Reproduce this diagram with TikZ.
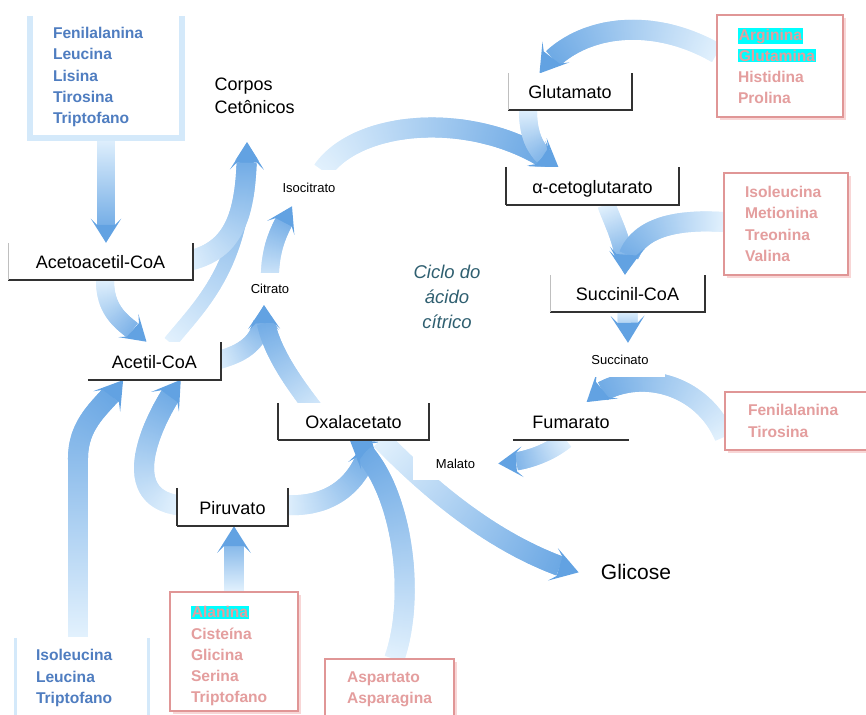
\documentclass[tikz,border=0pt]{standalone}
\usepackage{fontspec}
\setmainfont{Liberation Sans}
\usetikzlibrary{decorations.markings,backgrounds,shadows}

\definecolor{azulclaro}{RGB}{226,241,253}
\definecolor{azulescuro}{RGB}{98,162,226}
\definecolor{azulborda}{RGB}{212,233,250}
\definecolor{azultexto}{RGB}{79,125,192}
\definecolor{rosaborda}{RGB}{224,150,150}
\definecolor{rosasombra}{RGB}{248,214,214}
\definecolor{rosatexto}{RGB}{228,158,158}
\definecolor{ciano}{RGB}{0,255,255}
\definecolor{ciclo}{RGB}{47,95,112}
\definecolor{cinzasombra}{RGB}{50,50,50}

\newcommand{\realce}[1]{{\setlength{\fboxsep}{0.8pt}\colorbox{ciano}{#1}}}

\begin{document}
\begin{tikzpicture}[
		x=1pt,y=-1pt,
		etapa/.style={fill=white,inner sep=0pt,minimum height=37pt,text height=14.4pt,text depth=0pt,font=\fontsize{18}{20}\selectfont},
		rotulo/.style={fill=white,inner sep=0pt,font=\fontsize{13}{15}\selectfont},
		listaazul/.style={inner sep=0pt,align=left,text=azultexto,font=\fontsize{15.6}{21.2}\selectfont\bfseries},
		listarosa/.style={draw=rosaborda,line width=1.5pt,fill=white,inner sep=0pt,align=left,text=rosatexto,
			font=\fontsize{15.6}{21.2}\selectfont\bfseries,
			drop shadow={shadow xshift=3pt,shadow yshift=-3pt,fill=rosasombra,opacity=1}},
		bordaazul/.style={draw=azulborda,line width=6pt},
		sombra/.style={draw=cinzasombra,line width=2pt},
		bordafina/.style={draw=black!25,line width=0.6pt},
		seta/.style={decoration={markings,
				mark=between positions 0 and -#1 step 1pt with {%
					\pgfmathsetmacro\fracseta{\pgfkeysvalueof{/pgf/decoration/mark info/distance from start}/\pgfdecoratedpathlength*100}%
					\fill[azulescuro!\fracseta!azulclaro] (-0.9pt,-#1/2) rectangle (0.9pt,#1/2);},
				mark=at position -3pt with {%
					\fill[azulescuro] (3pt,0pt) -- (3pt-1.35*#1,0.85*#1) -- (3pt-1.0*#1,0.5*#1) -- (3pt-1.0*#1,-0.5*#1) -- (3pt-1.35*#1,-0.85*#1) -- cycle;}},
			decorate},
		]
		\useasboundingbox (0,0) rectangle (866,714);

		% listas de aminoacidos
		\node[listaazul,minimum width=152pt,minimum height=122pt,text width=106pt] (listaA) at (106,77)
			{Fenilalanina\\Leucina\\Lisina\\Tirosina\\Triptofano};
		\draw[bordaazul] (listaA.north west) -- (listaA.south west) -- (listaA.south east) -- (listaA.north east);
		\node[listaazul,minimum width=132pt,minimum height=80pt,text width=92pt] (listaB) at (82,678)
			{Isoleucina\\Leucina\\Triptofano};
		\draw[bordaazul,line width=3pt] (listaB.north west) -- (listaB.south west) (listaB.north east) -- (listaB.south east);
		\node[listarosa,minimum width=126pt,minimum height=102pt,text width=84pt] (listaC) at (780,66)
			{\realce{Arginina}\\\realce{Glutamina}\\Histidina\\Prolina};
		\node[listarosa,minimum width=124pt,minimum height=102pt,text width=82pt] (listaD) at (786,224)
			{Isoleucina\\Metionina\\Treonina\\Valina};
		\node[listarosa,minimum width=143pt,minimum height=58pt,text width=97pt] (listaE) at (796.5,421)
			{Fenilalanina\\Tirosina};
		\node[listarosa,minimum width=128pt,minimum height=119pt,text width=86pt] (listaF) at (234,651.5)
			{\rule{0pt}{21pt}\realce{Alanina}\\Cisteína\\Glicina\\Serina\\Triptofano};
		\node[listarosa,minimum width=129pt,minimum height=61pt,text width=85pt] (listaG) at (389.5,689.5)
			{Aspartato\\Asparagina};

		% intermediarios
		\node[etapa,minimum width=185pt] (acetoacetil) at (100.5,261.5) {Acetoacetil-CoA};
		\node[etapa,minimum width=133pt,minimum height=38pt] (acetil) at (154.5,361) {Acetil-CoA};
		\node[etapa,minimum width=111pt,minimum height=38pt] (piruvato) at (232.5,507) {Piruvato};
		\node[etapa,minimum width=151pt] (oxal) at (353.5,421.5) {Oxalacetato};
		\node[etapa,minimum width=116pt,minimum height=38pt] (fumarato) at (571,421) {Fumarato};
		\node[etapa,minimum width=155pt] (succinil) at (627.5,293.5) {Succinil-CoA};
		\node[etapa,minimum width=173pt,minimum height=38pt] (alfa) at (592.5,186) {α-cetoglutarato};
		\node[etapa,minimum width=124pt] (glutamato) at (570,91.5) {Glutamato};
		\foreach \n in {acetoacetil,acetil,piruvato,oxal,succinil,alfa,glutamato}
			\draw[sombra] (\n.south west) -- (\n.south east) -- (\n.north east);
		\draw[sombra] (fumarato.south west) -- (fumarato.south east);
		\foreach \n in {alfa,oxal,piruvato}
			\draw[sombra] (\n.north west) -- (\n.south west);
		\foreach \n in {acetoacetil,succinil,glutamato}
			\draw[bordafina] (\n.north west) -- (\n.south west);

		\node[rotulo,minimum width=86pt,minimum height=36pt] (isocitrato) at (309,188) {Isocitrato};
		\node[rotulo,minimum width=52pt,minimum height=32pt] (citrato) at (270,289) {Citrato};
		\node[rotulo,minimum width=90pt,minimum height=34pt] (succinato) at (620,360) {Succinato};
		\node[rotulo,minimum width=85pt,minimum height=33pt] (malato) at (455.5,463.5) {Malato};

		\node[anchor=west,align=left,font=\fontsize{18}{23}\selectfont] (corpos) at (211,96) {Corpos\\Cetônicos};
		\node[align=center,text=ciclo,font=\fontsize{18.5}{25}\selectfont\itshape] (ciclo) at (447,297) {Ciclo do\\ácido\\cítrico};
		\node[font=\fontsize{21}{24}\selectfont] (glicose) at (636,572) {Glicose};
		\coordinate (pcorpos) at (247,143);

		% setas
		\begin{pgfonlayer}{background}
			\path[seta=18pt] (listaA.south) -- (listaA.south |- acetoacetil.north);
			\path[seta=18pt] ([xshift=4.5pt]acetoacetil.south) .. controls (105,318) and (130,326) .. ([xshift=-8pt]acetil.north);
			\path[seta=14pt] ([xshift=16pt]acetil.north) .. controls (205,300) and (247,262) .. (pcorpos);
			\path[seta=20pt] ([xshift=-8pt]acetoacetil.east) .. controls (235,252) and (247,215) .. (pcorpos);
			\path[seta=18pt] ([xshift=-6pt]acetil.east) .. controls (250,352) and (264,338) .. ([xshift=-6pt]citrato.south);
			\path[seta=18pt] ([xshift=-30pt]oxal.center) .. controls (295,385) and (264,345) .. ([xshift=-6pt]citrato.south);
			\path[seta=18pt] (citrato.center) .. controls (268,245) and (281,228) .. ([xshift=-17pt]isocitrato.south);
			\path[seta=20pt] ([xshift=14pt]isocitrato.north) .. controls (360,118) and (480,110) .. ([xshift=-35pt]alfa.north);
			\path[seta=18pt] ([xshift=-42pt]glutamato.south) .. controls (528,140) and (538,155) .. ([xshift=-35pt]alfa.north);
			\path[seta=20pt] ([yshift=13pt]listaC.west) .. controls (650,15) and (575,25) .. ([xshift=-30pt]glutamato.north);
			\path[seta=18pt] ([xshift=14pt]alfa.south) .. controls (616,230) and (625,245) .. ([xshift=-2.5pt]succinil.north);
			\path[seta=20pt] ([yshift=2pt]listaD.west) .. controls (660,218) and (626,235) .. ([xshift=-2.5pt]succinil.north);
			\path[seta=20pt] (succinil.south) -- ([xshift=8pt]succinato.north);
			\path[seta=20pt] ([yshift=-15pt]listaE.west) .. controls (700,380) and (630,365) .. ([xshift=16pt]fumarato.north);
			\path[seta=18pt] ([xshift=-6pt]fumarato.south) .. controls (550,452) and (528,462) .. (malato.east);
			\path[seta=20pt] ([xshift=-4pt,yshift=2pt]piruvato.east) .. controls (335,508) and (362,480) .. ([xshift=18pt]oxal.south);
			\path[seta=20pt] ([xshift=5pt]listaG.north) .. controls (418,590) and (400,475) .. ([xshift=-3pt]oxal.south);
			\path[seta=20pt] ([xshift=28pt]oxal.south) .. controls (440,500) and (505,550) .. ([xshift=-20pt]glicose.west);
			\path[seta=20pt] ([yshift=2pt]piruvato.west) .. controls (115,495) and (155,415) .. ([xshift=26pt]acetil.south);
			\path[seta=20pt] ([xshift=-4pt,yshift=2pt]listaB.north) -- ++(0,-176) .. controls (77.5,420) and (105,405) .. ([xshift=-31.5pt]acetil.south);
			\path[seta=20pt] (listaF.north) -- (listaF.north |- piruvato.south);
		\end{pgfonlayer}
\end{tikzpicture}
\end{document}
